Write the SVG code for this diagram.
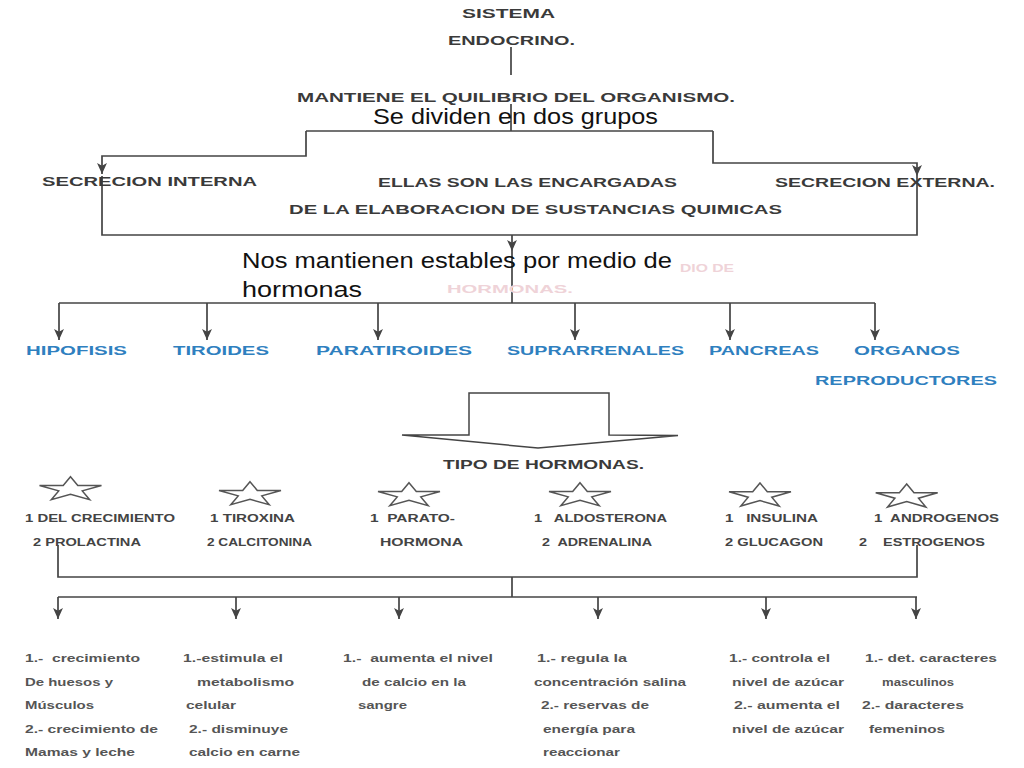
<svg xmlns="http://www.w3.org/2000/svg" width="1024" height="768" viewBox="0 0 1024 768">
<defs>
<style>
.t{font-family:"Liberation Sans",Arial,sans-serif;font-weight:bold;font-size:12px;fill:#3a3a3a;white-space:pre}
.b{font-family:"Liberation Sans",Arial,sans-serif;font-weight:bold;font-size:12.5px;fill:#2f80bf}
.s{font-family:"Liberation Sans",Arial,sans-serif;font-weight:bold;font-size:10px;fill:#444;white-space:pre}
.d{font-family:"Liberation Sans",Arial,sans-serif;font-weight:bold;font-size:10px;fill:#555;white-space:pre}
.o{font-family:"Liberation Sans",Arial,sans-serif;font-size:22px;fill:#111}
.g{font-family:"Liberation Sans",Arial,sans-serif;font-weight:bold;font-size:11px;fill:#efd3d8}
.ln{fill:none;stroke:#444;stroke-width:1.7}
.ar{fill:none;stroke:#444;stroke-width:1.7;marker-end:url(#ah)}
.st{fill:#fff;stroke:#555;stroke-width:1.5}
</style>
<marker id="ah" viewBox="0 0 10 10" refX="10" refY="5" markerWidth="11" markerHeight="11" orient="auto" markerUnits="userSpaceOnUse">
<path d="M0,0.5 L10,5 L0,9.5 L2.5,5 z" fill="#444"/>
</marker>
<polygon id="star" points="0,-12.7 7.3,-3.9 31,-3.9 11.8,1.5 19.2,10.3 0,4.9 -19.2,10.3 -11.8,1.5 -31,-3.9 -7.3,-3.9"/>
</defs>
<rect width="1024" height="768" fill="#fff"/>

<g id="connectors">
<path class="ln" d="M511,47 V75"/>
<path class="ln" d="M511,104 V131"/>
<path class="ln" d="M306,131 H713"/>
<path class="ar" d="M306,131 V156 H102 V174"/>
<path class="ar" d="M713,131 V163 H917 V176"/>
<path class="ln" d="M102,176 V235 H917 V176"/>
<path class="ar" d="M512,235 V251"/>
<path class="ln" d="M512,251 V303"/>
<path class="ln" d="M59,303 H875"/>
<path class="ar" d="M59,303 V340"/>
<path class="ar" d="M207,303 V340"/>
<path class="ar" d="M378,303 V340"/>
<path class="ar" d="M575,303 V340"/>
<path class="ar" d="M730,303 V340"/>
<path class="ar" d="M875,303 V340"/>
<path class="ln" d="M58,545 V577 H917 V545"/>
<path class="ln" d="M512,577 V597"/>
<path class="ln" d="M58,597 H917"/>
<path class="ar" d="M58,597 V619"/>
<path class="ar" d="M236,597 V619"/>
<path class="ar" d="M399,597 V619"/>
<path class="ar" d="M598,597 V619"/>
<path class="ar" d="M766,597 V619"/>
<path class="ar" d="M916,597 V619"/>
</g>

<g id="n-sistema">
<text class="t" x="462" y="17.5" textLength="93" lengthAdjust="spacingAndGlyphs">SISTEMA</text>
<text class="t" x="448" y="45" textLength="127" lengthAdjust="spacingAndGlyphs">ENDOCRINO.</text>
</g>
<g id="n-mantiene">
<text class="t" x="297" y="101.5" textLength="438" lengthAdjust="spacingAndGlyphs">MANTIENE EL QUILIBRIO DEL ORGANISMO.</text>
</g>
<g id="n-dividen">
<text class="o" x="373" y="124" font-size="21.5" textLength="285" lengthAdjust="spacingAndGlyphs">Se dividen en dos grupos</text>
</g>
<g id="n-interna">
<text class="t" x="42" y="186" textLength="215" lengthAdjust="spacingAndGlyphs">SECRECION INTERNA</text>
</g>
<g id="n-encargadas">
<text class="t" x="378" y="186.5" textLength="299" lengthAdjust="spacingAndGlyphs">ELLAS SON LAS ENCARGADAS</text>
<text class="t" x="289" y="214" textLength="493" lengthAdjust="spacingAndGlyphs">DE LA ELABORACION DE SUSTANCIAS QUIMICAS</text>
</g>
<g id="n-externa">
<text class="t" x="775" y="186.5" textLength="220" lengthAdjust="spacingAndGlyphs">SECRECION EXTERNA.</text>
</g>
<g id="n-estables">
<text class="g" x="680" y="272" textLength="54" lengthAdjust="spacingAndGlyphs">DIO DE</text>
<text class="g" x="447" y="293" textLength="126" lengthAdjust="spacingAndGlyphs">HORMONAS.</text>
<text class="o" x="242" y="268" font-size="23" textLength="430" lengthAdjust="spacingAndGlyphs">Nos mantienen estables por medio de</text>
<text class="o" x="242" y="297" font-size="23" textLength="120" lengthAdjust="spacingAndGlyphs">hormonas</text>
</g>

<g id="n-hipofisis"><text class="b" x="26" y="355" textLength="101" lengthAdjust="spacingAndGlyphs">HIPOFISIS</text></g>
<g id="n-tiroides"><text class="b" x="173" y="355" textLength="96" lengthAdjust="spacingAndGlyphs">TIROIDES</text></g>
<g id="n-paratiroides"><text class="b" x="316" y="355" textLength="156" lengthAdjust="spacingAndGlyphs">PARATIROIDES</text></g>
<g id="n-suprarrenales"><text class="b" x="507" y="355" textLength="177" lengthAdjust="spacingAndGlyphs">SUPRARRENALES</text></g>
<g id="n-pancreas"><text class="b" x="709" y="355" textLength="110" lengthAdjust="spacingAndGlyphs">PANCREAS</text></g>
<g id="n-organos">
<text class="b" x="854" y="355" textLength="106" lengthAdjust="spacingAndGlyphs">ORGANOS</text>
<text class="b" x="815" y="385" textLength="182" lengthAdjust="spacingAndGlyphs">REPRODUCTORES</text>
</g>

<g id="n-blockarrow">
<polygon points="469,393 609,393 609,435 678,435.5 538,448 402,435 469,435" fill="#fff" stroke="#444" stroke-width="1.5" stroke-linejoin="miter"/>
</g>
<g id="n-tipo">
<text class="t" x="443" y="468.5" textLength="201" lengthAdjust="spacingAndGlyphs">TIPO DE HORMONAS.</text>
</g>

<g id="n-h1">
<use href="#star" class="st" x="70.5" y="489.4"/>
<text class="s" x="25" y="522" textLength="150" lengthAdjust="spacingAndGlyphs">1 DEL CRECIMIENTO</text>
<text class="s" x="33" y="546" textLength="108" lengthAdjust="spacingAndGlyphs">2 PROLACTINA</text>
</g>
<g id="n-h2">
<use href="#star" class="st" x="250" y="494.4"/>
<text class="s" x="210" y="522" textLength="85" lengthAdjust="spacingAndGlyphs">1 TIROXINA</text>
<text class="s" x="207" y="546" textLength="105" lengthAdjust="spacingAndGlyphs">2 CALCITONINA</text>
</g>
<g id="n-h3">
<use href="#star" class="st" x="409" y="495.4"/>
<text class="s" x="370" y="522" textLength="85" lengthAdjust="spacingAndGlyphs">1  PARATO-</text>
<text class="s" x="380" y="546" textLength="83" lengthAdjust="spacingAndGlyphs">HORMONA</text>
</g>
<g id="n-h4">
<use href="#star" class="st" x="580" y="495.4"/>
<text class="s" x="534" y="522" textLength="133" lengthAdjust="spacingAndGlyphs">1   ALDOSTERONA</text>
<text class="s" x="542" y="546" textLength="110" lengthAdjust="spacingAndGlyphs">2  ADRENALINA</text>
</g>
<g id="n-h5">
<use href="#star" class="st" x="760" y="495.7"/>
<text class="s" x="725" y="522" textLength="93" lengthAdjust="spacingAndGlyphs">1   INSULINA</text>
<text class="s" x="725" y="546" textLength="98" lengthAdjust="spacingAndGlyphs">2 GLUCAGON</text>
</g>
<g id="n-h6">
<use href="#star" class="st" x="906.7" y="496.7"/>
<text class="s" x="874" y="522" textLength="125" lengthAdjust="spacingAndGlyphs">1  ANDROGENOS</text>
<text class="s" x="859" y="546" textLength="126" lengthAdjust="spacingAndGlyphs">2    ESTROGENOS</text>
</g>

<g id="n-f1">
<text class="d" x="25" y="662" textLength="115" lengthAdjust="spacingAndGlyphs">1.-  crecimiento</text>
<text class="d" x="25" y="686" textLength="88" lengthAdjust="spacingAndGlyphs">De huesos y</text>
<text class="d" x="25" y="709" textLength="69" lengthAdjust="spacingAndGlyphs">Músculos</text>
<text class="d" x="25" y="733" textLength="133" lengthAdjust="spacingAndGlyphs">2.- crecimiento de</text>
<text class="d" x="25" y="756" textLength="110" lengthAdjust="spacingAndGlyphs">Mamas y leche</text>
</g>
<g id="n-f2">
<text class="d" x="183" y="662" textLength="100" lengthAdjust="spacingAndGlyphs">1.-estimula el</text>
<text class="d" x="197" y="686" textLength="97" lengthAdjust="spacingAndGlyphs">metabolismo</text>
<text class="d" x="186" y="709" textLength="50" lengthAdjust="spacingAndGlyphs">celular</text>
<text class="d" x="189" y="733" textLength="99" lengthAdjust="spacingAndGlyphs">2.- disminuye</text>
<text class="d" x="189" y="756" textLength="111" lengthAdjust="spacingAndGlyphs">calcio en carne</text>
</g>
<g id="n-f3">
<text class="d" x="343" y="662" textLength="150" lengthAdjust="spacingAndGlyphs">1.-  aumenta el nivel</text>
<text class="d" x="362" y="686" textLength="104" lengthAdjust="spacingAndGlyphs">de calcio en la</text>
<text class="d" x="358" y="709" textLength="49" lengthAdjust="spacingAndGlyphs">sangre</text>
</g>
<g id="n-f4">
<text class="d" x="537" y="662" textLength="90" lengthAdjust="spacingAndGlyphs">1.- regula la</text>
<text class="d" x="534" y="686" textLength="152" lengthAdjust="spacingAndGlyphs">concentración salina</text>
<text class="d" x="541" y="709" textLength="108" lengthAdjust="spacingAndGlyphs">2.- reservas de</text>
<text class="d" x="543" y="733" textLength="92" lengthAdjust="spacingAndGlyphs">energía para</text>
<text class="d" x="543" y="756" textLength="77" lengthAdjust="spacingAndGlyphs">reaccionar</text>
</g>
<g id="n-f5">
<text class="d" x="729" y="662" textLength="101" lengthAdjust="spacingAndGlyphs">1.- controla el</text>
<text class="d" x="732" y="686" textLength="112" lengthAdjust="spacingAndGlyphs">nivel de azúcar</text>
<text class="d" x="734" y="709" textLength="106" lengthAdjust="spacingAndGlyphs">2.- aumenta el</text>
<text class="d" x="732" y="733" textLength="112" lengthAdjust="spacingAndGlyphs">nivel de azúcar</text>
</g>
<g id="n-f6">
<text class="d" x="865" y="662" textLength="132" lengthAdjust="spacingAndGlyphs">1.- det. caracteres</text>
<text class="d" x="882" y="686" textLength="72" lengthAdjust="spacingAndGlyphs">masculinos</text>
<text class="d" x="862" y="709" textLength="102" lengthAdjust="spacingAndGlyphs">2.- daracteres</text>
<text class="d" x="869" y="733" textLength="76" lengthAdjust="spacingAndGlyphs">femeninos</text>
</g>
</svg>
